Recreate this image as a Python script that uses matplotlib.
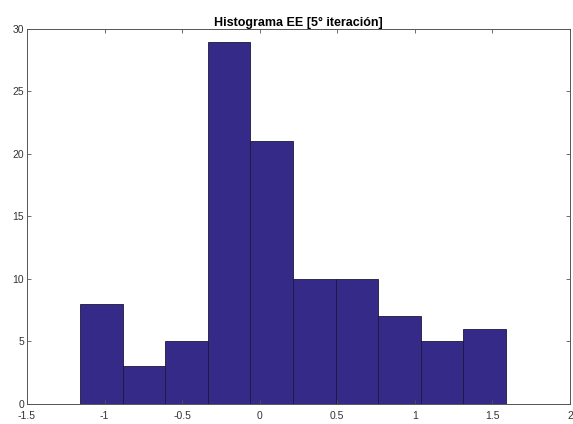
import matplotlib
matplotlib.use("Agg")
import matplotlib.pyplot as plt
import numpy as np

bin_left = -1.158
bin_width = 0.2746
counts = [8, 3, 5, 29, 21, 10, 10, 7, 5, 6]
edges = [bin_left + i * bin_width for i in range(len(counts) + 1)]
centers = [(edges[i] + edges[i + 1]) / 2 for i in range(len(counts))]
xticks = [-1.5, -1, -0.5, 0, 0.5, 1, 1.5, 2]
xticklabels = ["-1.5", "-1", "-0.5", "0", "0.5", "1", "1.5", "2"]
yticks = [0, 5, 10, 15, 20, 25, 30]
title = "Histograma EE [5° iteración]"

plt.rcParams['font.family'] = ['Liberation Sans', 'DejaVu Sans']
fig = plt.figure(figsize=(5.73, 4.24), dpi=100)
ax = fig.add_axes([0.0471, 0.0472, 0.9477, 0.8844])
ax.hist(centers, bins=edges, weights=counts, color="#352a87",
        edgecolor="#1a1a3a", linewidth=0.6)
ax.set_xlim(-1.5, 2)
ax.set_ylim(0, 30)
ax.set_xticks(xticks)
ax.set_xticklabels(xticklabels)
ax.set_yticks(yticks)
ax.tick_params(direction="in", top=True, right=True, length=3, width=0.6,
               color="#555555", labelsize=7.5, labelcolor="#333333", pad=2)
ax.tick_params(axis="x", pad=5)
for s in ax.spines.values():
    s.set_color("#555555")
    s.set_linewidth(0.7)
ax.set_title(title, fontsize=9, fontweight="bold", pad=2)
fig.savefig("out.png", dpi=100)
